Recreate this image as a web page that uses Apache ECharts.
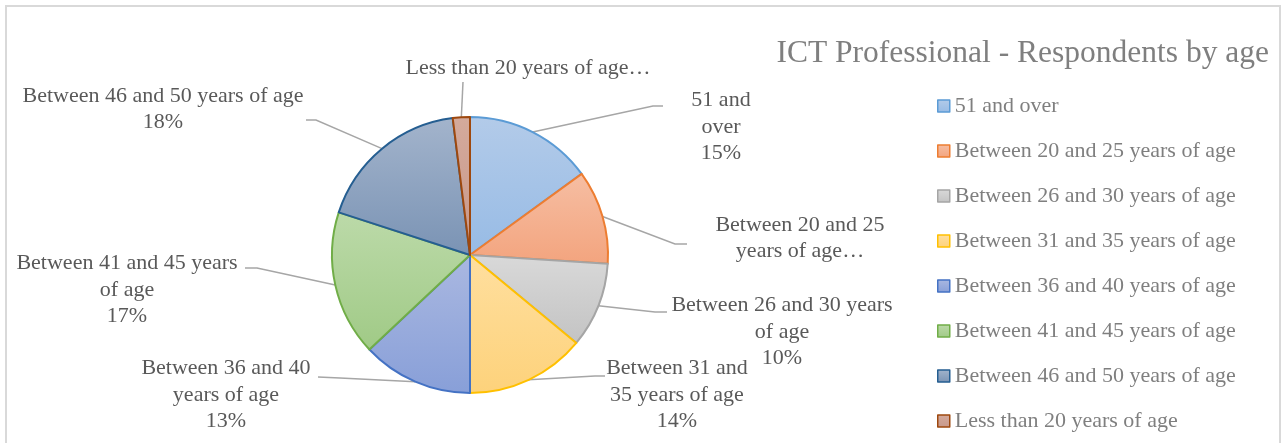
<!DOCTYPE html>
<html>
<head>
<meta charset="utf-8">
<script src="https://cdn.jsdelivr.net/npm/echarts@6/dist/echarts.min.js"></script>
<style>
  html, body { margin: 0; padding: 0; background: #fff; }
  #chart { width: 1281px; height: 443px; }
</style>
</head>
<body>
<div id="chart"></div>
<script>
// categories and values (percent of respondents)
var ageGroups = [
  "51 and over",
  "Between 20 and 25 years of age",
  "Between 26 and 30 years of age",
  "Between 31 and 35 years of age",
  "Between 36 and 40 years of age",
  "Between 41 and 45 years of age",
  "Between 46 and 50 years of age",
  "Less than 20 years of age"
];
var shares = [15, 11, 10, 14, 13, 17, 18, 2];

// label text as wrapped in the original (two were cut off with an ellipsis)
var labelTexts = [
  "51 and\nover",
  "Between 20 and 25\nyears of age…",
  "Between 26 and 30 years\nof age",
  "Between 31 and\n35 years of age",
  "Between 36 and 40\nyears of age",
  "Between 41 and 45 years\nof age",
  "Between 46 and 50 years of age",
  "Less than 20 years of age…"
];
var showPercent = [true, false, true, true, true, true, true, false];

// slice colours: [top of gradient, bottom of gradient, border]
var sliceColors = [
  ["#b3cbe9", "#97bbe5", "#5b9bd5"],
  ["#f6bea3", "#f3a47e", "#ed7d31"],
  ["#d9d9d9", "#c3c3c3", "#a5a5a5"],
  ["#ffdf9f", "#fdd27b", "#ffc000"],
  ["#aab8e1", "#889fd8", "#4472c4"],
  ["#bcdaa9", "#a0ca86", "#70ad47"],
  ["#a3b4cc", "#7a93b4", "#255e91"],
  ["#d4aa9c", "#c8988a", "#9e480e"]
];

// label placement (centre of text block) and leader line [elbow, end]
var labelPos = [[721, 127], [800, 238], [782, 332], [677, 395], [226, 395], [127, 290], [163, 109], [528, 68]];
var leaders = [
  [[653, 106], [663, 106]],
  [[675, 244], [687, 244]],
  [[655, 312], [667, 312]],
  [[595, 376], [605, 376]],
  [[340, 378], [318, 377]],
  [[257, 268], [245, 268]],
  [[316, 120], [306, 120]],
  [[463, 82], [463, 82]]
];

var serif = '"Liberation Serif", "Times New Roman", serif';

var pieData = ageGroups.map(function (name, i) {
  var c = sliceColors[i];
  return {
    name: name,
    value: shares[i],
    itemStyle: {
      color: new echarts.graphic.LinearGradient(0, 0, 0, 1, [
        { offset: 0, color: c[0] },
        { offset: 1, color: c[1] }
      ]),
      borderColor: c[2]
    }
  };
});

var myChart = echarts.init(document.getElementById("chart"));
var option = {
  animation: false,
  title: {
    text: "ICT Professional - Respondents by age",
    right: 7,
    top: 33,
    textStyle: {
      fontFamily: serif,
      fontSize: 31.5,
      fontWeight: "normal",
      color: "#7f7f7f"
    }
  },
  legend: {
    orient: "vertical",
    left: 937,
    top: 93,
    padding: 0,
    itemWidth: 12,
    itemHeight: 12,
    itemGap: 19,
    icon: "rect",
    data: ageGroups,
    textStyle: {
      fontFamily: serif,
      fontSize: 22,
      lineHeight: 26,
      color: "#7f7f7f"
    },
    itemStyle: { borderWidth: 1.5 }
  },
  graphic: [
    {
      type: "rect",
      shape: { x: 6, y: 6, width: 1274, height: 460 },
      style: { fill: "none", stroke: "#d9d9d9", lineWidth: 2 },
      silent: true
    }
  ],
  series: [
    {
      name: "Respondents",
      type: "pie",
      center: [470, 255],
      radius: 138,
      startAngle: 90,
      clockwise: true,
      avoidLabelOverlap: false,
      itemStyle: { borderWidth: 2 },
      label: {
        show: true,
        position: "outside",
        fontFamily: serif,
        fontSize: 22,
        lineHeight: 26.5,
        color: "#595959",
        align: "center",
        formatter: function (p) {
          var t = labelTexts[p.dataIndex];
          if (showPercent[p.dataIndex]) t += "\n" + Math.round(p.percent) + "%";
          return t;
        }
      },
      labelLine: {
        show: true,
        length: 20,
        length2: 10,
        lineStyle: { color: "#a6a6a6", width: 1.5 }
      },
      labelLayout: function (params) {
        var i = params.dataIndex;
        var start = params.labelLinePoints ? params.labelLinePoints[0] : leaders[i][0];
        return {
          x: labelPos[i][0],
          y: labelPos[i][1],
          align: "center",
          verticalAlign: "middle",
          labelLinePoints: [start, leaders[i][0], leaders[i][1]]
        };
      },
      emphasis: { disabled: true },
      data: pieData
    }
  ]
};
myChart.setOption(option);
window.addEventListener("resize", function () {
  myChart.resize();
});
</script>
</body>
</html>
